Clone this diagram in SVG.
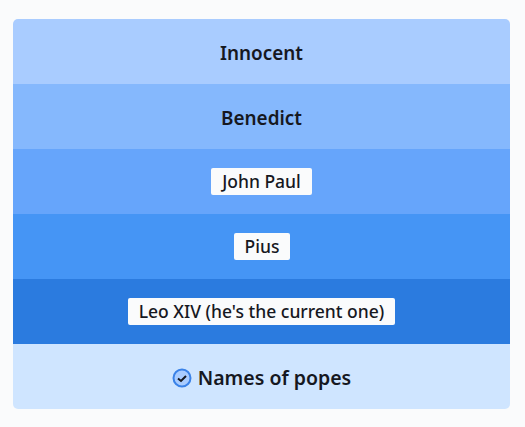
<svg xmlns="http://www.w3.org/2000/svg" width="525" height="427" viewBox="0 0 525 427">
<style>
.t{font-family:"Noto Sans","Open Sans",sans-serif;font-weight:600;font-size:18.900px;fill:#16181f;text-anchor:middle}
.s{font-size:17.500px;font-weight:500}
.b{font-size:19.500px}
.l{fill:#fafbfc}
</style>
<defs><clipPath id="c"><rect x="13" y="19" width="497" height="390" rx="5"/></clipPath></defs>
<rect width="525" height="427" fill="#fafbfc"/>
<g clip-path="url(#c)">
<rect x="13" y="19" width="497" height="65" fill="#a9ccff"/>
<rect x="13" y="84" width="497" height="65" fill="#85b8fd"/>
<rect x="13" y="149" width="497" height="65" fill="#66a5fb"/>
<rect x="13" y="214" width="497" height="65" fill="#4595f5"/>
<rect x="13" y="279" width="497" height="65" fill="#2b7bdf"/>
<rect x="13" y="344" width="497" height="65" fill="#cfe5ff"/>
</g>
<g id="n1"><text class="t" x="261.500" y="60">Innocent</text></g>
<g id="n2"><text class="t" x="261.500" y="125">Benedict</text></g>
<g id="n3"><rect class="l" x="211" y="168" width="101" height="27" rx="2"/><text class="t s" x="261.500" y="188">John Paul</text></g>
<g id="n4"><rect class="l" x="234" y="233" width="56" height="27" rx="2"/><text class="t s" x="262" y="253">Pius</text></g>
<g id="n5"><rect class="l" x="128" y="298" width="267" height="27" rx="2"/><text class="t s" x="261.500" y="318">Leo XIV (he's the current one)</text></g>
<g id="n6">
<circle cx="182" cy="378" r="8.500" fill="#a9ccff" stroke="#3a82e8" stroke-width="2"/>
<path d="M178 378.500l3 2.500 5-5" fill="none" stroke="#16181f" stroke-width="2"/>
<text class="t b" x="274.500" y="385">Names of popes</text>
</g>
<g id="connectors"></g>
</svg>
